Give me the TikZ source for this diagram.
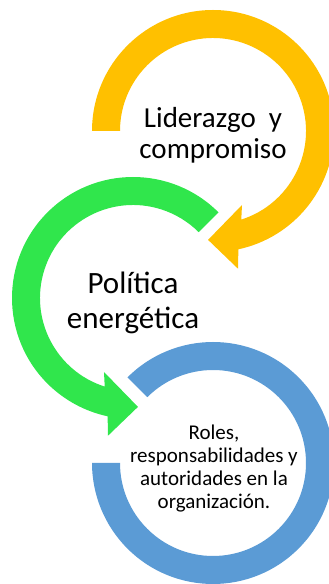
\documentclass[tikz,border=0pt]{standalone}
\usepackage{fontspec}
\setmainfont{Carlito}
\usetikzlibrary{calc}
\definecolor{amarillo}{HTML}{FFC000}
\definecolor{verde}{HTML}{30E64C}
\definecolor{azul}{HTML}{5B9BD5}
\tikzset{texto/.style={align=center,inner sep=0pt,text=black}}

\begin{document}
\begin{tikzpicture}[x=1pt,y=1pt]
\useasboundingbox (0,0) rectangle (329,584);
\clip (0,0) rectangle (329,584);
\coordinate (cama) at (213,453);
\coordinate (cver) at (133,286);
\coordinate (cazu) at (213,121);
% anillo amarillo
\fill[amarillo] ($(cama)+(180:121)$) arc[start angle=180,end angle=-77.9,radius=121]
  -- ($(cama)+(-79.7:140)$) -- ($(cama)+(-92.6:109)$) -- ($(cama)+(-68.6:79.5)$)
  -- ($(cama)+(-72.3:93)$) arc[start angle=-72.3,end angle=180,radius=93] -- cycle;
% anillo verde
\fill[verde] ($(cver)+(45:121)$) arc[start angle=45,end angle=257.9,radius=121]
  -- ($(cver)+(259.7:140)$) -- ($(cver)+(272.6:109)$) -- ($(cver)+(248.6:79.5)$)
  -- ($(cver)+(252.3:93)$) arc[start angle=252.3,end angle=45,radius=93] -- cycle;
% anillo azul
\fill[azul] ($(cazu)+(135:121)$) arc[start angle=135,end angle=-180,radius=121]
  -- ($(cazu)+(180:93)$) arc[start angle=-180,end angle=135,radius=93] -- cycle;
\node[texto,font=\fontsize{29}{31}\selectfont] (lider) at (213,449) {Liderazgo\ \ y\\compromiso};
\node[texto,font=\fontsize{31}{35}\selectfont] (politica) at (133,281) {Política\\energética};
\node[texto,font=\fontsize{21}{23}\selectfont] (roles) at (214,115) {Roles,\\responsabilidades y\\autoridades en la\\organización.};
\end{tikzpicture}
\end{document}
